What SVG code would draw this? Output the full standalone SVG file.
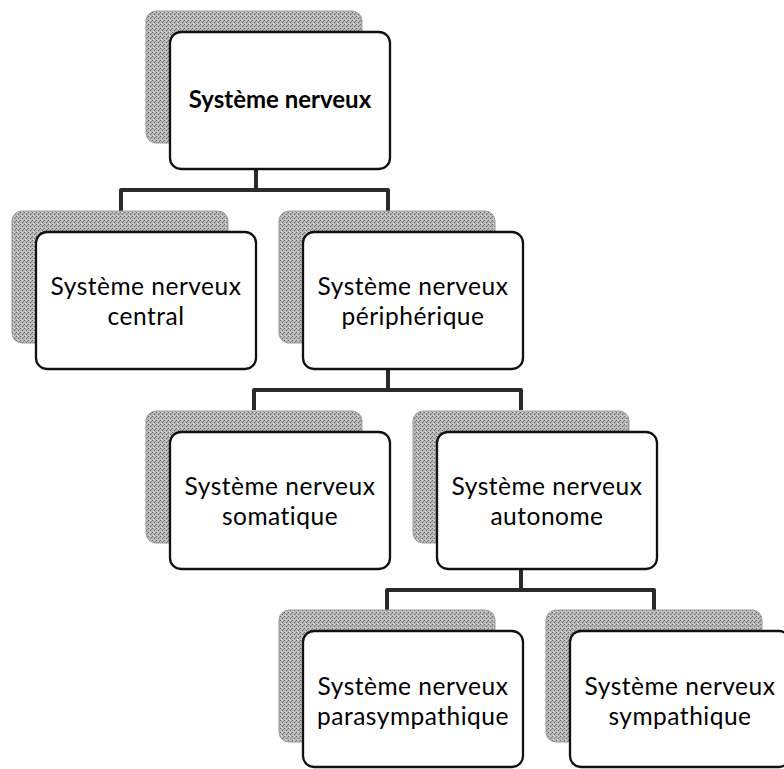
<svg xmlns="http://www.w3.org/2000/svg" width="784" height="769" viewBox="0 0 784 769">
<defs>
<pattern id="dither" width="4" height="4" patternUnits="userSpaceOnUse">
<rect width="4" height="4" fill="#b4b4b4"/>
<rect x="0" y="0" width="1" height="1" fill="#6e6e6e"/>
<rect x="2" y="2" width="1" height="1" fill="#6e6e6e"/>
<rect x="1" y="3" width="1" height="1" fill="#dcdcdc"/>
<rect x="3" y="1" width="1" height="1" fill="#8a8a8a"/>
<rect x="2" y="0" width="1" height="1" fill="#d0d0d0"/>
</pattern>
<style>
.shadow{fill:url(#dither);stroke:#9a9a9a;stroke-width:1;}
.box{fill:#ffffff;stroke:#111111;stroke-width:2.3;}
.conn{fill:none;stroke:#2a2a2a;stroke-width:4;stroke-linejoin:round;stroke-linecap:butt;}
.t{font-family:Lato,"Open Sans","DejaVu Sans",sans-serif;font-size:24.5px;letter-spacing:0.5px;fill:#000;text-anchor:middle;}
.tb{font-family:Lato,"Open Sans","DejaVu Sans",sans-serif;font-size:24px;font-weight:bold;fill:#000;text-anchor:middle;}
</style>
</defs>
<g id="connectors">
<path class="conn" d="M256 169 V190 M121 211 V190 H388 V211"/>
<path class="conn" d="M388 369 V390 M254 410 V390 H521 V410"/>
<path class="conn" d="M521 569 V590 M387 611 V590 H654 V611"/>
</g>
<g id="n-systeme-nerveux">
<rect class="shadow" x="146" y="11" width="216" height="132" rx="10"/>
<rect class="box" x="170" y="32" width="220" height="137" rx="11"/>
<text class="tb" x="280" y="108">Système nerveux</text>
</g>
<g id="n-central">
<rect class="shadow" x="12" y="211" width="216" height="132" rx="10"/>
<rect class="box" x="36" y="232" width="220" height="137" rx="11"/>
<text class="t" x="146" y="295">Système nerveux</text>
<text class="t" x="146" y="324.5">central</text>
</g>
<g id="n-peripherique">
<rect class="shadow" x="279" y="211" width="216" height="132" rx="10"/>
<rect class="box" x="303" y="232" width="220" height="137" rx="11"/>
<text class="t" x="413" y="295">Système nerveux</text>
<text class="t" x="413" y="324.5">périphérique</text>
</g>
<g id="n-somatique">
<rect class="shadow" x="146" y="411" width="216" height="132" rx="10"/>
<rect class="box" x="170" y="432" width="220" height="137" rx="11"/>
<text class="t" x="280" y="495">Système nerveux</text>
<text class="t" x="280" y="524.5">somatique</text>
</g>
<g id="n-autonome">
<rect class="shadow" x="413" y="411" width="216" height="132" rx="10"/>
<rect class="box" x="437" y="432" width="220" height="137" rx="11"/>
<text class="t" x="547" y="495">Système nerveux</text>
<text class="t" x="547" y="524.5">autonome</text>
</g>
<g id="n-parasympathique">
<rect class="shadow" x="279" y="610" width="216" height="132" rx="10"/>
<rect class="box" x="303" y="631" width="220" height="136" rx="11"/>
<text class="t" x="413" y="695">Système nerveux</text>
<text class="t" x="413" y="724.5">parasympathique</text>
</g>
<g id="n-sympathique">
<rect class="shadow" x="546" y="610" width="216" height="132" rx="10"/>
<rect class="box" x="570" y="631" width="220" height="136" rx="11"/>
<text class="t" x="680" y="695">Système nerveux</text>
<text class="t" x="680" y="724.5">sympathique</text>
</g>
</svg>
